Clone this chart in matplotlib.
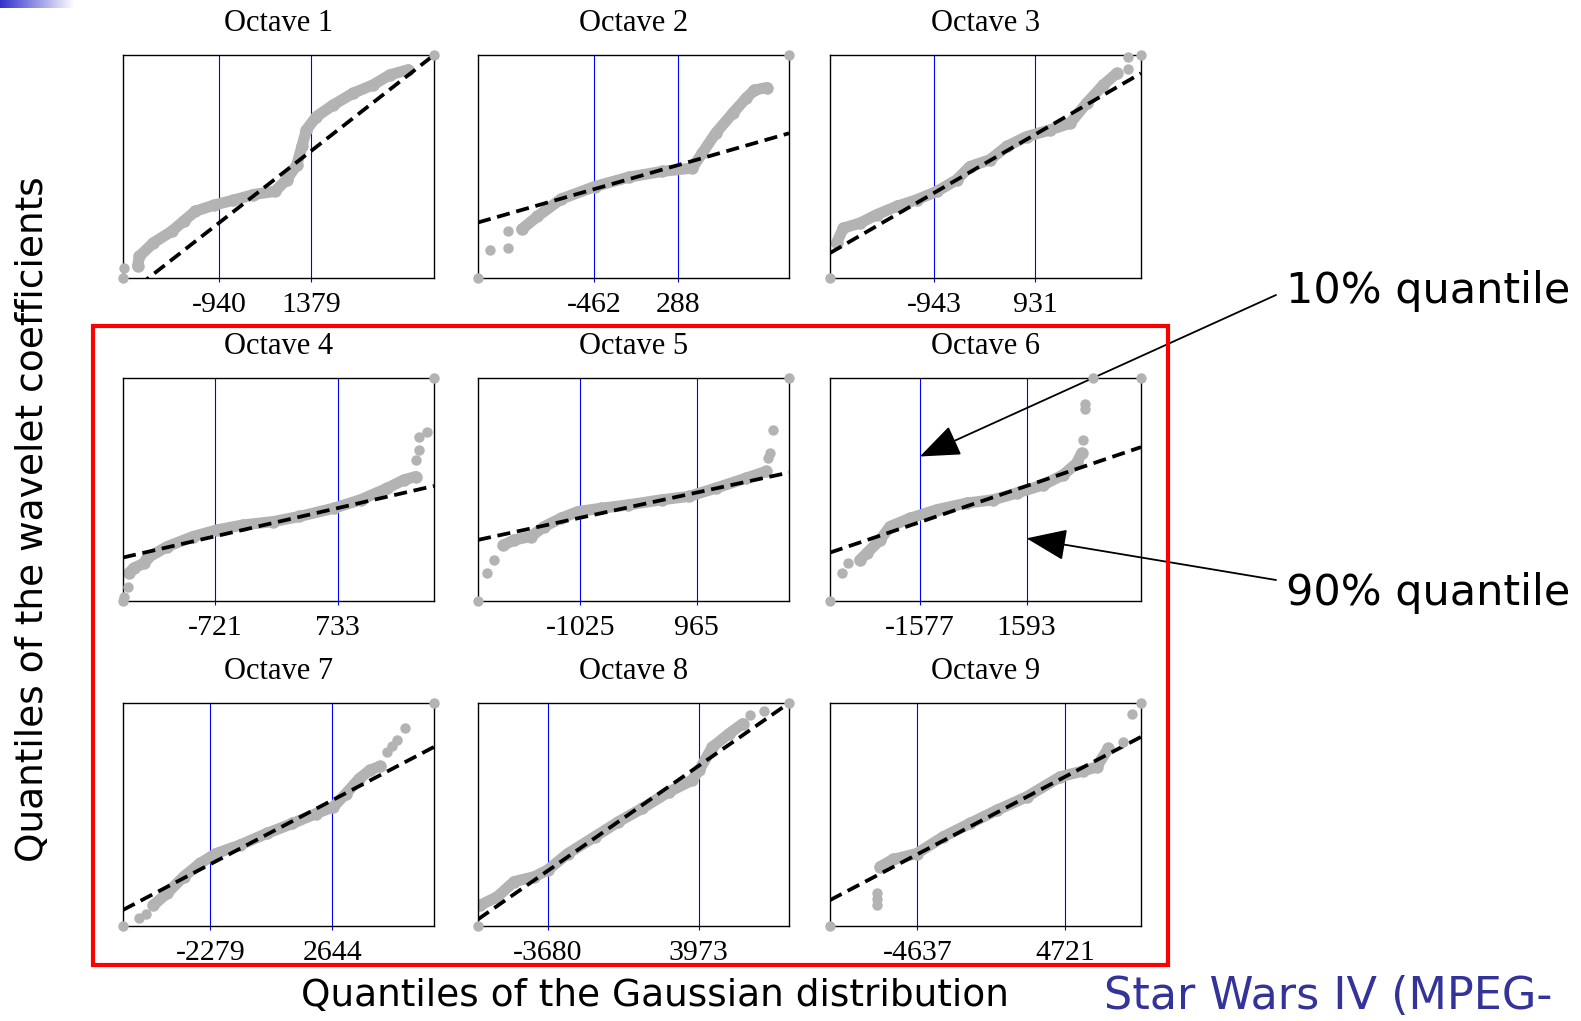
import numpy as np
import matplotlib.pyplot as plt
from matplotlib.patches import Rectangle
from matplotlib.colors import LinearSegmentedColormap

# Gaussian-quantile range on the x axis of every panel, and the 10% / 90% marks
x_lims = [(-3369, 4465), (-1502, 1286), (-2875, 2891),
          (-1813, 1877), (-2776, 2545), (-4248, 4994),
          (-5808, 6751), (-7207, 8540), (-10161, 9499)]
q10 = [-940, -462, -943, -721, -1025, -1577, -2279, -3680, -4637]
q90 = [1379, 288, 931, 733, 965, 1593, 2644, 3973, 4721]

# fitted gaussian line: normalised coefficient quantile at left / right edge
line_left = [-0.089, 0.249, 0.112, 0.195, 0.274, 0.217, 0.072, 0.030, 0.116]
line_right = [1.0, 0.649, 0.918, 0.516, 0.576, 0.690, 0.803, 1.0, 0.848]

# dense part of each QQ curve (u = fraction of x range, v = normalised coefficient quantile)
oct1_u = [0.047, 0.053, 0.098, 0.157, 0.195, 0.233, 0.291, 0.355, 0.419, 0.489, 0.526, 0.559,
          0.575, 0.590, 0.622, 0.676, 0.740, 0.804, 0.858, 0.917]
oct1_v = [0.054, 0.098, 0.158, 0.210, 0.255, 0.300, 0.326, 0.349, 0.374, 0.389, 0.441, 0.508,
          0.590, 0.665, 0.724, 0.776, 0.829, 0.866, 0.911, 0.934]
oct2_u = [0.141, 0.191, 0.267, 0.375, 0.484, 0.591, 0.689, 0.721, 0.764, 0.819, 0.862, 0.889, 0.929]
oct2_v = [0.219, 0.276, 0.354, 0.410, 0.452, 0.478, 0.493, 0.560, 0.649, 0.739, 0.806, 0.843, 0.854]
oct3_u = [0.021, 0.043, 0.096, 0.150, 0.214, 0.279, 0.343, 0.407, 0.450, 0.514, 0.568, 0.632,
          0.707, 0.772, 0.825, 0.879, 0.922]
oct3_v = [0.157, 0.224, 0.246, 0.284, 0.321, 0.351, 0.388, 0.440, 0.500, 0.530, 0.590, 0.634,
          0.664, 0.694, 0.784, 0.866, 0.918]
oct4_u = [0.018, 0.034, 0.067, 0.077, 0.142, 0.225, 0.303, 0.386, 0.483, 0.567, 0.678, 0.764,
          0.850, 0.903, 0.941]
oct4_v = [0.124, 0.147, 0.169, 0.192, 0.244, 0.289, 0.319, 0.341, 0.356, 0.379, 0.416, 0.454,
          0.506, 0.543, 0.558]
oct5_u = [0.081, 0.116, 0.170, 0.213, 0.267, 0.321, 0.397, 0.483, 0.591, 0.678, 0.764, 0.862, 0.926]
oct5_v = [0.249, 0.274, 0.289, 0.334, 0.371, 0.401, 0.416, 0.431, 0.454, 0.469, 0.506, 0.551, 0.581]
oct6_u = [0.096, 0.118, 0.161, 0.193, 0.257, 0.343, 0.439, 0.525, 0.600, 0.686, 0.750, 0.793, 0.809]
oct6_v = [0.184, 0.214, 0.274, 0.334, 0.371, 0.409, 0.439, 0.454, 0.484, 0.521, 0.566, 0.618, 0.663]
oct7_u = [0.098, 0.141, 0.195, 0.248, 0.299, 0.376, 0.462, 0.545, 0.620, 0.676, 0.717, 0.760,
          0.794, 0.826]
oct7_v = [0.094, 0.146, 0.221, 0.281, 0.325, 0.363, 0.415, 0.460, 0.504, 0.534, 0.594, 0.661,
          0.699, 0.716]
oct8_u = [0.008, 0.062, 0.116, 0.181, 0.224, 0.289, 0.375, 0.451, 0.527, 0.613, 0.689, 0.711,
          0.754, 0.808, 0.851]
oct8_v = [0.094, 0.131, 0.199, 0.221, 0.251, 0.325, 0.400, 0.467, 0.527, 0.601, 0.654, 0.699,
          0.803, 0.863, 0.907]
oct9_u = [0.161, 0.204, 0.279, 0.364, 0.450, 0.536, 0.632, 0.740, 0.815, 0.857, 0.895]
oct9_v = [0.266, 0.299, 0.325, 0.400, 0.460, 0.519, 0.579, 0.669, 0.696, 0.713, 0.796]

# isolated points (tails) of each curve
oct1_du = [0.0, 0.002, 1.0]
oct1_dv = [0.0, 0.046, 1.0]
oct2_du = [0.0, 0.038, 0.097, 0.097, 1.0]
oct2_dv = [0.0, 0.124, 0.133, 0.213, 1.0]
oct3_du = [0.0, 0.957, 0.957, 1.0]
oct3_dv = [0.0, 0.936, 0.990, 1.0]
oct4_du = [0.0, 0.004, 0.015, 0.941, 0.951, 0.951, 0.979, 1.0]
oct4_dv = [0.0, 0.019, 0.064, 0.633, 0.675, 0.734, 0.756, 1.0]
oct5_du = [0.0, 0.029, 0.051, 0.932, 0.939, 0.948, 1.0]
oct5_dv = [0.0, 0.124, 0.184, 0.641, 0.663, 0.765, 1.0]
oct6_du = [0.0, 0.038, 0.059, 0.815, 0.821, 0.821, 0.847, 1.0]
oct6_dv = [0.0, 0.124, 0.169, 0.723, 0.861, 0.883, 1.0, 1.0]
oct7_du = [0.0, 0.053, 0.075, 0.848, 0.866, 0.882, 0.908, 1.0]
oct7_dv = [0.0, 0.034, 0.052, 0.781, 0.806, 0.833, 0.888, 1.0]
oct8_du = [0.0, 0.873, 0.919, 1.0]
oct8_dv = [0.0, 0.945, 0.963, 1.0]
oct9_du = [0.0, 0.150, 0.150, 0.150, 0.943, 0.970, 1.0]
oct9_dv = [0.0, 0.094, 0.120, 0.146, 0.825, 0.949, 1.0]

bands = [(oct1_u, oct1_v), (oct2_u, oct2_v), (oct3_u, oct3_v),
         (oct4_u, oct4_v), (oct5_u, oct5_v), (oct6_u, oct6_v),
         (oct7_u, oct7_v), (oct8_u, oct8_v), (oct9_u, oct9_v)]
tails = [(oct1_du, oct1_dv), (oct2_du, oct2_dv), (oct3_du, oct3_dv),
         (oct4_du, oct4_dv), (oct5_du, oct5_dv), (oct6_du, oct6_dv),
         (oct7_du, oct7_dv), (oct8_du, oct8_dv), (oct9_du, oct9_dv)]

GRAY = '#b3b3b3'
SERIF = 'Liberation Serif'

fig = plt.figure(figsize=(15.81, 10.21), dpi=100)
W, H = 1581, 1021

col_left = [123, 478, 830]
row_bottom = [278, 601, 926]
ax_w, ax_h = 311, 223

axes = []
for i in range(9):
    r, c = divmod(i, 3)
    ax = fig.add_axes([col_left[c] / W, 1 - row_bottom[r] / H, ax_w / W, ax_h / H])
    axes.append(ax)
    lo, hi = x_lims[i]
    span = hi - lo

    bu, bv = bands[i]
    du, dv = tails[i]
    bx = [lo + u * span for u in bu]
    dx = [lo + u * span for u in du]

    ax.plot(bx, bv, color=GRAY, lw=8, solid_capstyle='round',
            solid_joinstyle='round', zorder=2)
    ax.plot(bx, bv, 'o', color=GRAY, ms=9, mew=0, zorder=2)
    ax.plot(dx, dv, 'o', color=GRAY, ms=7.5, mew=0, zorder=4, clip_on=False)

    ax.axvline(q10[i], color='#0000ff', lw=0.8, zorder=1)
    ax.axvline(q90[i], color='#0000ff', lw=0.8, zorder=1)
    ax.plot([lo, hi], [line_left[i], line_right[i]], color='black', lw=2.7,
            dashes=(3.5, 1.8), zorder=3)

    ax.set_xlim(lo, hi)
    ax.set_ylim(0, 1)
    ax.set_xticks([q10[i], q90[i]])
    ax.set_xticklabels([str(q10[i]), str(q90[i])], family=SERIF, fontsize=21.5)
    ax.set_yticks([])
    ax.tick_params(axis='x', length=3, width=0.8, color='#0000ff', pad=7)
    for s in ax.spines.values():
        s.set_linewidth(1.0)
    ax.set_title(f'Octave {i + 1}', family=SERIF, fontsize=22, pad=17)

# highlight box around octaves 4-9
fig.patches.append(Rectangle((93 / W, 1 - 965 / H), (1168 - 93) / W, (965 - 326) / H,
                             transform=fig.transFigure, fill=False,
                             edgecolor='#ff0000', lw=3))

fig.text(33 / W, 1 - 519 / H, 'Quantiles of the wavelet coefficients',
         rotation=90, ha='center', va='center', fontsize=27)
fig.text(655 / W, 1 - 996 / H, 'Quantiles of the Gaussian distribution',
         ha='center', va='center', fontsize=27)
fig.text(1104 / W, 1 - 996 / H, 'Star Wars IV (MPEG-',
         ha='left', va='center', fontsize=32, color='#333399')

fig.text(1286 / W, 1 - 291 / H, '10% quantile', ha='left', va='center', fontsize=31)
fig.text(1286 / W, 1 - 593 / H, '90% quantile', ha='left', va='center', fontsize=31)

ax6 = axes[5]
arrow = dict(arrowstyle='-|>,head_length=1.4,head_width=0.55', color='black',
             lw=1.3, shrinkA=0, shrinkB=0, mutation_scale=18)
ax6.annotate('', xy=(q10[5], 0.648), xycoords='data',
             xytext=(1276 / W, 1 - 295 / H), textcoords='figure fraction',
             arrowprops=arrow, annotation_clip=False)
ax6.annotate('', xy=(q90[5], 0.281), xycoords='data',
             xytext=(1276 / W, 1 - 580 / H), textcoords='figure fraction',
             arrowprops=arrow, annotation_clip=False)

# slide decoration in the top-left corner
deco = fig.add_axes([0, 1 - 8 / H, 75 / W, 8 / H])
cmap = LinearSegmentedColormap.from_list('deco', ['#3333cc', '#ffffff'])
deco.imshow(np.linspace(0, 1, 100)[None, :], aspect='auto', cmap=cmap)
deco.axis('off')

fig.savefig('out.png', dpi=100)
